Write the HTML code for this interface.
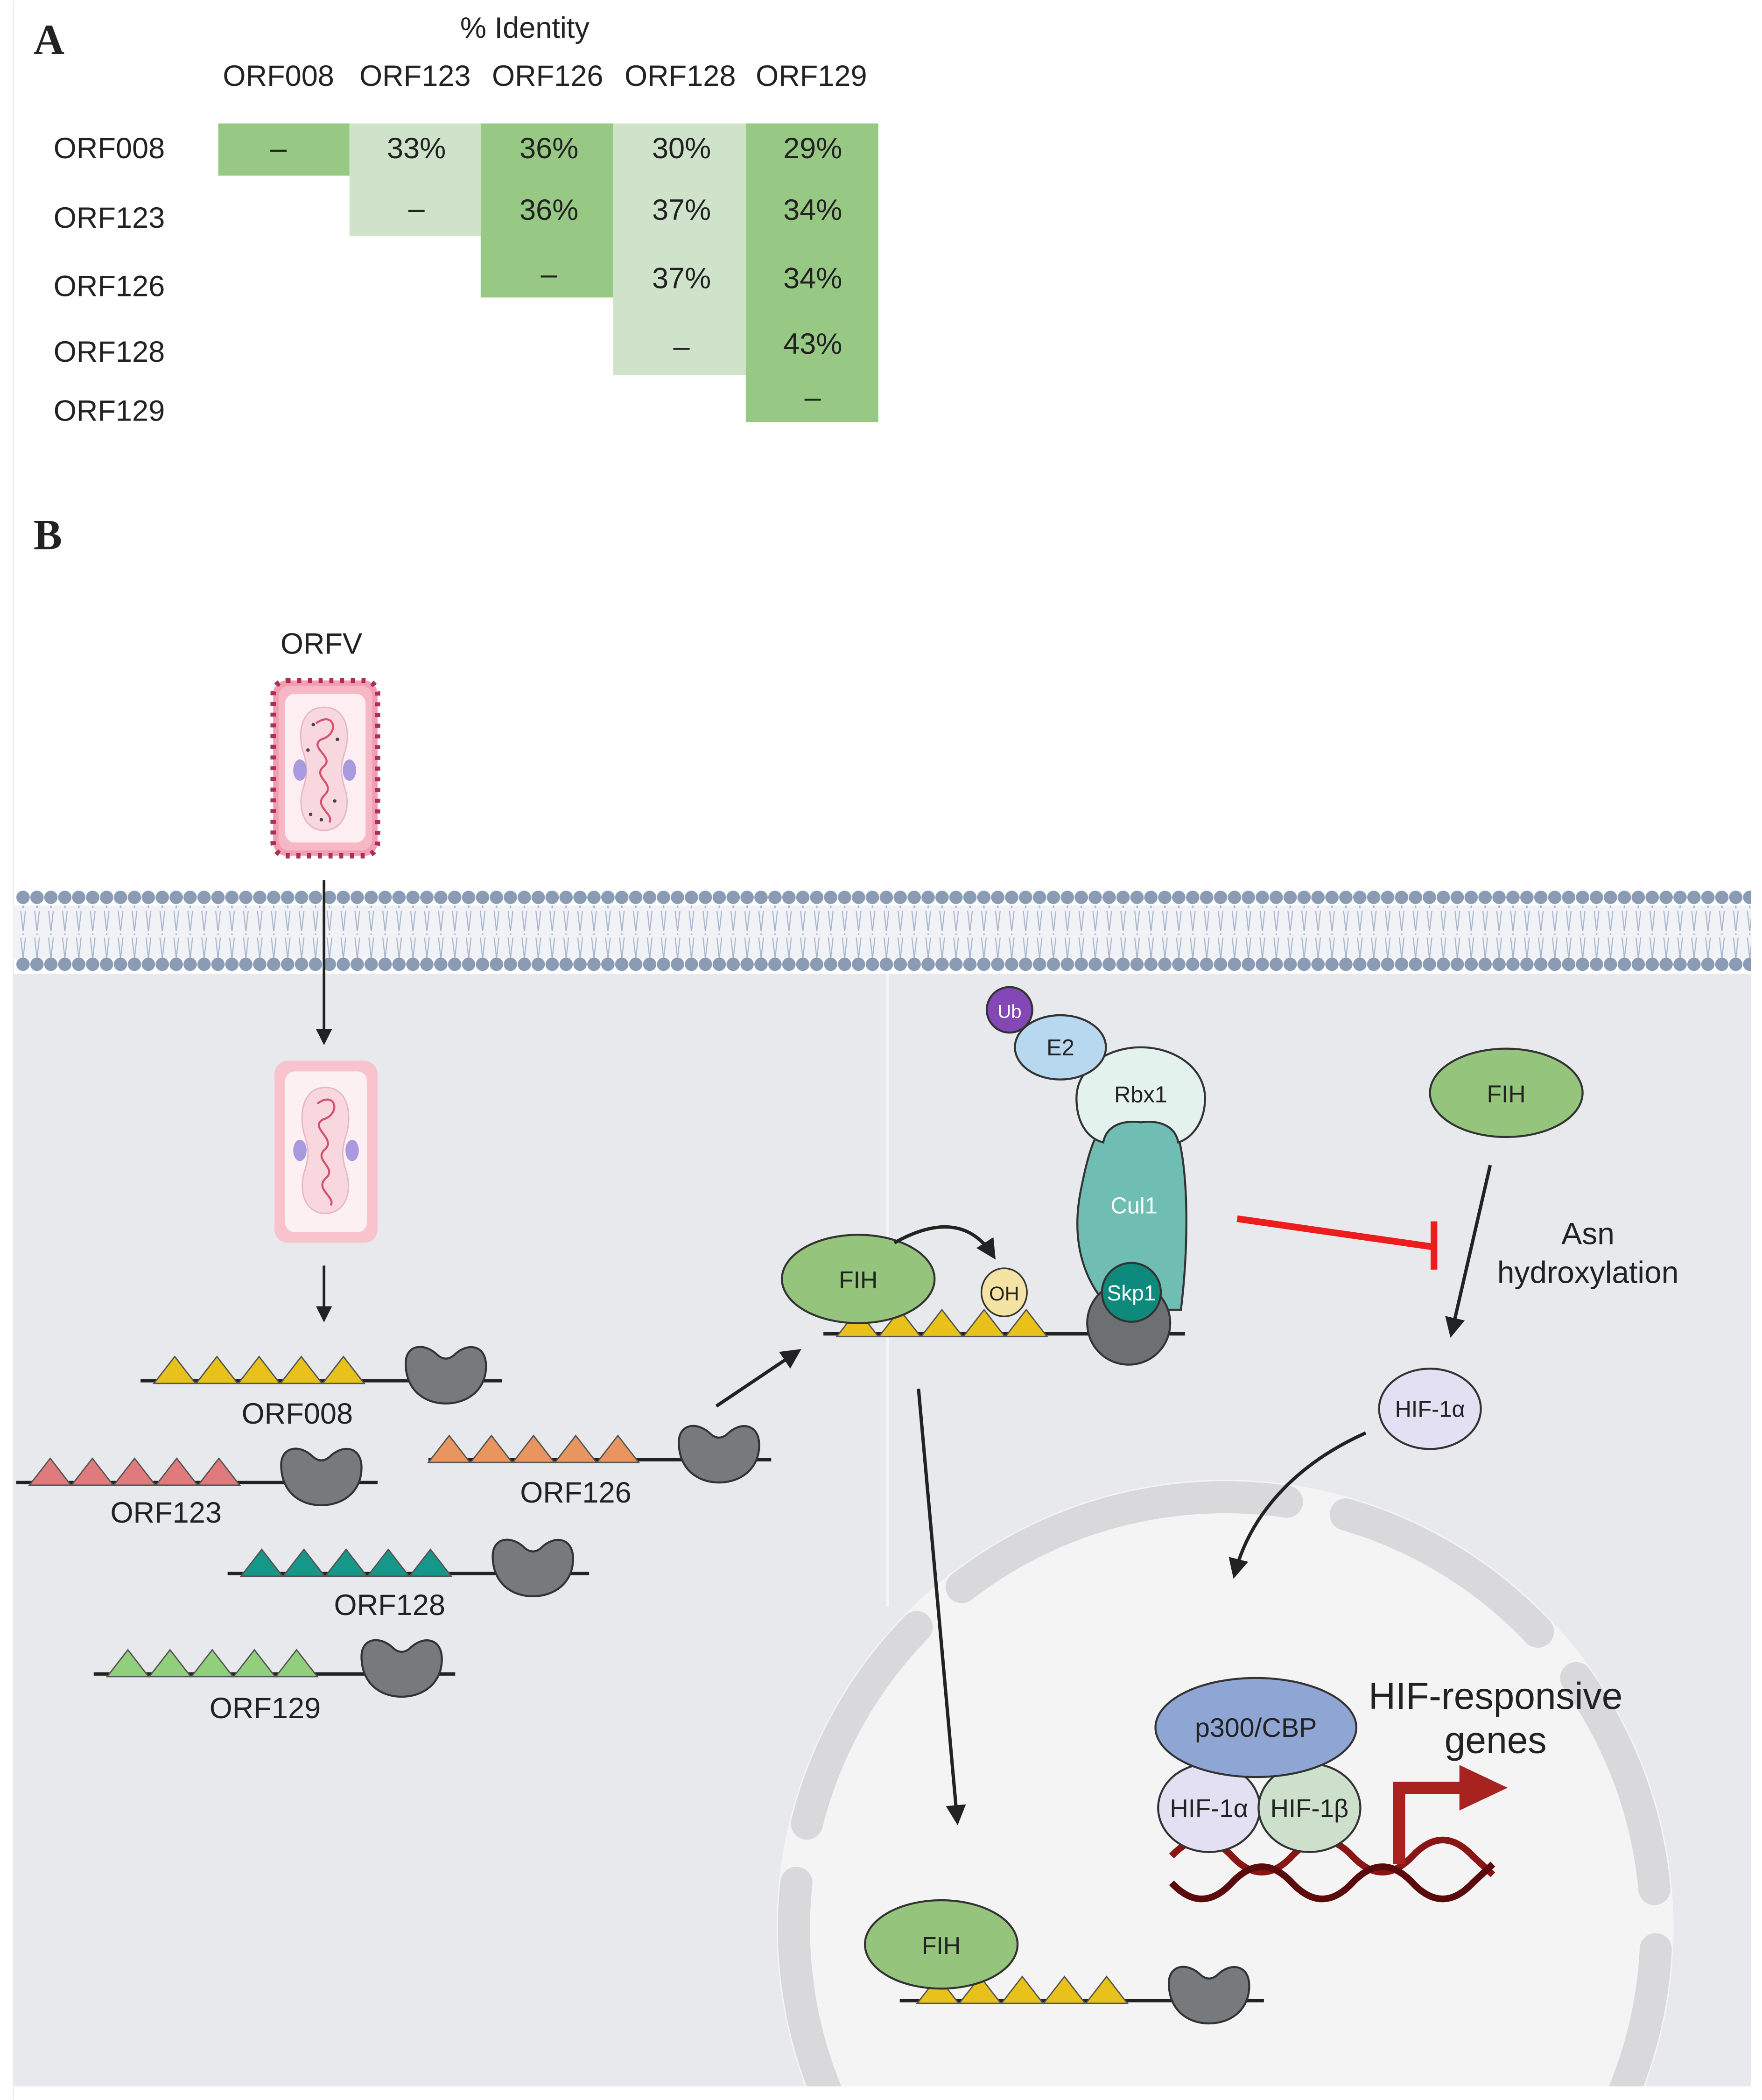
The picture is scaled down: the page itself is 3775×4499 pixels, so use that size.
<!DOCTYPE html>
<html><head><meta charset="utf-8"><style>
html,body{margin:0;padding:0;background:#fff;width:3775px;height:4499px;overflow:hidden}
svg{display:block}
text{font-family:"Liberation Sans",sans-serif;fill:#222}
</style></head><body>
<svg width="3775" height="4499" viewBox="0 0 1316 1568" xmlns="http://www.w3.org/2000/svg">
<defs>
<marker id="ah" viewBox="0 0 10 10" refX="8" refY="5" markerWidth="6" markerHeight="6" orient="auto"><path d="M0,0 L10,5 L0,10 Z" fill="#222"/></marker>
<g id="kid"><path d="M-30,-8 C-30,-22 -16,-24 -6,-14 Q0,-9 6,-14 C16,-24 30,-22 30,-6 C30,12 16,22 0,22 C-16,22 -30,12 -30,-8Z" fill="#777a7c" stroke="#333" stroke-width="1.5"/></g>
<g id="tri"><path d="M0,0 L15.5,-20 L31,0Z" stroke="#555" stroke-width="1"/></g>
<clipPath id="cellclip"><rect x="10" y="727" width="1298" height="831"/></clipPath>
<pattern id="tails" x="12" y="0" width="10.4" height="20" patternUnits="userSpaceOnUse">
<path d="M3.5,0 L5.5,18 M7,0 L5,18" stroke="#a9b6cc" stroke-width="0.8" fill="none"/>
</pattern>
<pattern id="memtop" x="12" y="664" width="10.4" height="12" patternUnits="userSpaceOnUse"><circle cx="5.2" cy="6" r="5" fill="#8a9bb5"/></pattern>
<pattern id="membot" x="12" y="714" width="10.4" height="12" patternUnits="userSpaceOnUse"><circle cx="5.2" cy="6" r="5" fill="#8a9bb5"/></pattern>
</defs>

<!-- Panel A -->
<text x="25" y="40" style="font-family:'Liberation Serif',serif;font-weight:bold;font-size:32px">A</text>
<text x="392" y="28" font-size="22" text-anchor="middle">% Identity</text>
<g font-size="22" text-anchor="middle">
<text x="208" y="64">ORF008</text><text x="310" y="64">ORF123</text><text x="409" y="64">ORF126</text><text x="508" y="64">ORF128</text><text x="606" y="64">ORF129</text>
</g>
<rect x="163" y="92" width="98" height="39" fill="#97c985"/>
<rect x="261" y="92" width="98" height="84" fill="#cfe3cb"/>
<rect x="359" y="92" width="99" height="130" fill="#97c985"/>
<rect x="458" y="92" width="99" height="188" fill="#cfe3cb"/>
<rect x="557" y="92" width="99" height="223" fill="#97c985"/>
<g font-size="22">
<text x="40" y="118">ORF008</text><text x="40" y="170">ORF123</text><text x="40" y="221">ORF126</text><text x="40" y="270">ORF128</text><text x="40" y="314">ORF129</text>
</g>
<g font-size="22" text-anchor="middle">
<text x="208" y="118">–</text><text x="311" y="118">33%</text><text x="410" y="118">36%</text><text x="509" y="118">30%</text><text x="607" y="118">29%</text>
<text x="311" y="163">–</text><text x="410" y="164">36%</text><text x="509" y="164">37%</text><text x="607" y="164">34%</text>
<text x="410" y="212">–</text><text x="509" y="215">37%</text><text x="607" y="215">34%</text>
<text x="509" y="266">–</text><text x="607" y="264">43%</text>
<text x="607" y="304">–</text>
</g>

<!-- Panel B -->
<text x="25" y="410" style="font-family:'Liberation Serif',serif;font-weight:bold;font-size:32px">B</text>
<line x1="10" y1="0" x2="10" y2="1568" stroke="#eee" stroke-width="1"/>

<!-- cell -->
<rect x="10" y="727" width="1298" height="831" fill="#e8e9ec"/>
<line x1="663" y1="727" x2="663" y2="1200" stroke="#f5f5f7" stroke-width="2"/>
<g clip-path="url(#cellclip)">
<circle cx="915" cy="1440" r="335" fill="#f4f4f5"/>
<circle cx="915" cy="1440" r="322" fill="none" stroke="#d9d9db" stroke-width="24" stroke-dasharray="170 45" stroke-linecap="round" transform="rotate(-112 915 1440)"/>
</g>

<!-- membrane -->
<rect x="10" y="676" width="1298" height="40" fill="#f0f2f6"/>
<rect x="12" y="676" width="1296" height="19" fill="url(#tails)"/>
<rect x="12" y="697" width="1296" height="19" fill="url(#tails)"/>
<rect x="12" y="664" width="1296" height="12" fill="url(#memtop)"/>
<rect x="12" y="714" width="1296" height="12" fill="url(#membot)"/>

<!-- ORFV virus -->
<text x="240" y="488" font-size="22" text-anchor="middle">ORFV</text>
<rect x="204" y="508" width="78" height="131" rx="10" fill="#f39db0" stroke="#a8305a" stroke-width="4" stroke-dasharray="3 5"/>
<rect x="208" y="512" width="70" height="123" rx="8" fill="#f6b8c5"/>
<rect x="213" y="518" width="60" height="111" rx="7" fill="#fdeef2"/>
<path d="M242,528 C258,528 262,545 258,560 C254,572 254,578 258,590 C262,605 256,620 242,620 C228,620 222,605 226,590 C230,578 230,572 226,560 C222,545 226,528 242,528Z" fill="#f8d7de" stroke="#e6b8c2"/>
<path d="M236,540 C250,530 254,548 240,552 C230,558 250,565 242,572 C232,580 252,585 242,594 C234,602 250,608 246,614" fill="none" stroke="#d4506e" stroke-width="1.5"/>
<ellipse cx="224" cy="575" rx="5" ry="8" fill="#a99ae0"/><ellipse cx="261" cy="575" rx="5" ry="8" fill="#a99ae0"/>
<g fill="#444"><circle cx="234" cy="541" r="1.3"/><circle cx="252" cy="552" r="1.3"/><circle cx="230" cy="560" r="1.3"/><circle cx="250" cy="598" r="1.3"/><circle cx="232" cy="608" r="1.3"/><circle cx="240" cy="612" r="1.3"/></g>

<line x1="242" y1="657" x2="242" y2="778" stroke="#222" stroke-width="2" marker-end="url(#ah)"/>

<!-- uncoated virus -->
<rect x="205" y="792" width="77" height="136" rx="10" fill="#f9c3ce"/>
<rect x="213" y="800" width="61" height="120" rx="7" fill="#fdf0f3"/>
<path d="M243,812 C259,812 263,830 259,846 C255,858 255,864 259,876 C263,892 257,906 243,906 C229,906 223,892 227,876 C231,864 231,858 227,846 C223,830 227,812 243,812Z" fill="#f8d7de" stroke="#e6b8c2"/>
<path d="M237,824 C251,814 255,832 241,836 C231,842 251,850 243,858 C233,866 253,872 243,880 C235,888 251,894 247,900" fill="none" stroke="#d4506e" stroke-width="1.5"/>
<ellipse cx="224" cy="859" rx="5" ry="8" fill="#a99ae0"/><ellipse cx="263" cy="859" rx="5" ry="8" fill="#a99ae0"/>

<line x1="242" y1="945" x2="242" y2="985" stroke="#222" stroke-width="2" marker-end="url(#ah)"/>

<!-- ORF constructs -->
<g stroke="#222" stroke-width="2.5">
<line x1="105" y1="1031" x2="375" y2="1031"/>
<line x1="12" y1="1107" x2="282" y2="1107"/>
<line x1="320" y1="1090" x2="576" y2="1090"/>
<line x1="170" y1="1175" x2="440" y2="1175"/>
<line x1="70" y1="1250" x2="340" y2="1250"/>
<line x1="615" y1="996" x2="885" y2="996"/>
<line x1="672" y1="1494" x2="944" y2="1494"/>
</g>
<g fill="#e8c21b"><use href="#tri" x="115" y="1033"/><use href="#tri" x="146.5" y="1033"/><use href="#tri" x="178" y="1033"/><use href="#tri" x="209.5" y="1033"/><use href="#tri" x="241" y="1033"/></g>
<use href="#kid" x="333" y="1026"/>
<text x="222" y="1063" font-size="22" text-anchor="middle">ORF008</text>
<g fill="#e07a7c"><use href="#tri" x="22" y="1109"/><use href="#tri" x="53.5" y="1109"/><use href="#tri" x="85" y="1109"/><use href="#tri" x="116.5" y="1109"/><use href="#tri" x="148" y="1109"/></g>
<use href="#kid" x="240" y="1102"/>
<text x="124" y="1137" font-size="22" text-anchor="middle">ORF123</text>
<g fill="#e99560"><use href="#tri" x="320" y="1092"/><use href="#tri" x="351.5" y="1092"/><use href="#tri" x="383" y="1092"/><use href="#tri" x="414.5" y="1092"/><use href="#tri" x="446" y="1092"/></g>
<use href="#kid" x="537" y="1085"/>
<text x="430" y="1122" font-size="22" text-anchor="middle">ORF126</text>
<g fill="#17978a"><use href="#tri" x="180" y="1177"/><use href="#tri" x="211.5" y="1177"/><use href="#tri" x="243" y="1177"/><use href="#tri" x="274.5" y="1177"/><use href="#tri" x="306" y="1177"/></g>
<use href="#kid" x="398" y="1170"/>
<text x="291" y="1206" font-size="22" text-anchor="middle">ORF128</text>
<g fill="#92cf7c"><use href="#tri" x="80" y="1252"/><use href="#tri" x="111.5" y="1252"/><use href="#tri" x="143" y="1252"/><use href="#tri" x="174.5" y="1252"/><use href="#tri" x="206" y="1252"/></g>
<use href="#kid" x="300" y="1245"/>
<text x="198" y="1283" font-size="22" text-anchor="middle">ORF129</text>

<line x1="535" y1="1050" x2="596" y2="1009" stroke="#222" stroke-width="2.5" marker-end="url(#ah)"/>

<!-- central complex -->
<g fill="#e8c21b"><use href="#tri" x="625" y="998"/><use href="#tri" x="656.5" y="998"/><use href="#tri" x="688" y="998"/><use href="#tri" x="719.5" y="998"/><use href="#tri" x="751" y="998"/></g>
<ellipse cx="641" cy="955" rx="57" ry="33" fill="#95c47c" stroke="#333" stroke-width="1.5"/>
<text x="641" y="962" font-size="18" text-anchor="middle">FIH</text>
<ellipse cx="750" cy="965" rx="17" ry="18" fill="#f5e3a3" stroke="#333" stroke-width="1.2"/>
<text x="750" y="971" font-size="15" text-anchor="middle">OH</text>
<path d="M668,928 Q718,900 742,938" fill="none" stroke="#222" stroke-width="2.5" marker-end="url(#ah)"/>
<path d="M822,842 C830,828 870,828 878,842 C888,870 888,930 882,978 L830,978 C812,960 798,930 808,885 C812,865 816,852 822,842Z" fill="#6fbdb3" stroke="#333" stroke-width="1.5"/>
<text x="847" y="906" font-size="17" text-anchor="middle" style="fill:#fff">Cul1</text>
<path d="M852,782 C878,782 900,798 900,820 C900,838 890,850 880,853 C878,842 868,836 852,838 C836,836 826,842 824,853 C812,850 804,838 804,820 C804,798 826,782 852,782Z" fill="#e4f2ed" stroke="#333" stroke-width="1.5"/>
<text x="852" y="823" font-size="17" text-anchor="middle">Rbx1</text>
<ellipse cx="792" cy="782" rx="34" ry="24" fill="#b8d8f0" stroke="#333" stroke-width="1.5"/>
<text x="792" y="788" font-size="17" text-anchor="middle">E2</text>
<circle cx="754" cy="754" r="17" fill="#8347b6" stroke="#333" stroke-width="1.5"/>
<text x="754" y="760" font-size="14" text-anchor="middle" style="fill:#fff">Ub</text>
<circle cx="843" cy="988" r="31" fill="#6d7072" stroke="#333" stroke-width="1.5"/>
<circle cx="845" cy="965" r="22" fill="#0e8a7d" stroke="#333" stroke-width="1.5"/>
<text x="845" y="971" font-size="16" text-anchor="middle" style="fill:#fff">Skp1</text>

<!-- inhibition -->
<line x1="924" y1="910" x2="1070" y2="931" stroke="#ee1c1c" stroke-width="5"/>
<line x1="1071" y1="912" x2="1071" y2="948" stroke="#ee1c1c" stroke-width="5"/>

<!-- right FIH -->
<ellipse cx="1125" cy="816" rx="57" ry="33" fill="#95c47c" stroke="#333" stroke-width="1.5"/>
<text x="1125" y="823" font-size="18" text-anchor="middle">FIH</text>
<line x1="1113" y1="870" x2="1084" y2="996" stroke="#222" stroke-width="2.5" marker-end="url(#ah)"/>
<text x="1186" y="929" font-size="23" text-anchor="middle">Asn</text>
<text x="1186" y="958" font-size="23" text-anchor="middle">hydroxylation</text>
<ellipse cx="1068" cy="1052" rx="38" ry="30" fill="#e4e0f3" stroke="#333" stroke-width="1.5"/>
<text x="1068" y="1058" font-size="17" text-anchor="middle">HIF-1α</text>
<path d="M1020,1070 C975,1090 935,1125 922,1176" fill="none" stroke="#222" stroke-width="2.5" marker-end="url(#ah)"/>

<line x1="686" y1="1037" x2="715" y2="1360" stroke="#222" stroke-width="2.5" marker-end="url(#ah)"/>

<!-- nucleus contents -->
<path d="M875,1386 C890,1370 905,1370 920,1386 S950,1402 965,1386 S995,1370 1010,1386 S1040,1402 1055,1386 S1085,1370 1100,1386 L1115,1400" fill="none" stroke="#8a1515" stroke-width="5"/>
<path d="M875,1406 C890,1422 905,1422 920,1406 S950,1390 965,1406 S995,1422 1010,1406 S1040,1390 1055,1406 S1085,1422 1100,1406 L1115,1392" fill="none" stroke="#5a0a0a" stroke-width="5"/>
<path d="M1045,1392 L1045,1335 L1092,1335" fill="none" stroke="#a8221f" stroke-width="9"/>
<path d="M1090,1318 L1126,1335 L1090,1352Z" fill="#a8221f"/>
<ellipse cx="903" cy="1350" rx="38" ry="33" fill="#e4e0f3" stroke="#333" stroke-width="1.5"/>
<ellipse cx="978" cy="1350" rx="38" ry="33" fill="#cde0cc" stroke="#333" stroke-width="1.5"/>
<text x="903" y="1357" font-size="19" text-anchor="middle">HIF-1α</text>
<text x="978" y="1357" font-size="19" text-anchor="middle">HIF-1β</text>
<ellipse cx="938" cy="1290" rx="75" ry="37" fill="#8fa6d4" stroke="#333" stroke-width="1.5"/>
<text x="938" y="1297" font-size="20" text-anchor="middle">p300/CBP</text>
<text x="1117" y="1276" font-size="28" text-anchor="middle">HIF-responsive</text>
<text x="1117" y="1309" font-size="28" text-anchor="middle">genes</text>

<!-- bottom complex -->
<g fill="#e8c21b"><use href="#tri" x="685" y="1496"/><use href="#tri" x="716.5" y="1496"/><use href="#tri" x="748" y="1496"/><use href="#tri" x="779.5" y="1496"/><use href="#tri" x="811" y="1496"/></g>
<ellipse cx="703" cy="1452" rx="57" ry="33" fill="#95c47c" stroke="#333" stroke-width="1.5"/>
<text x="703" y="1459" font-size="18" text-anchor="middle">FIH</text>
<use href="#kid" x="903" y="1489"/>
</svg>
</body></html>
